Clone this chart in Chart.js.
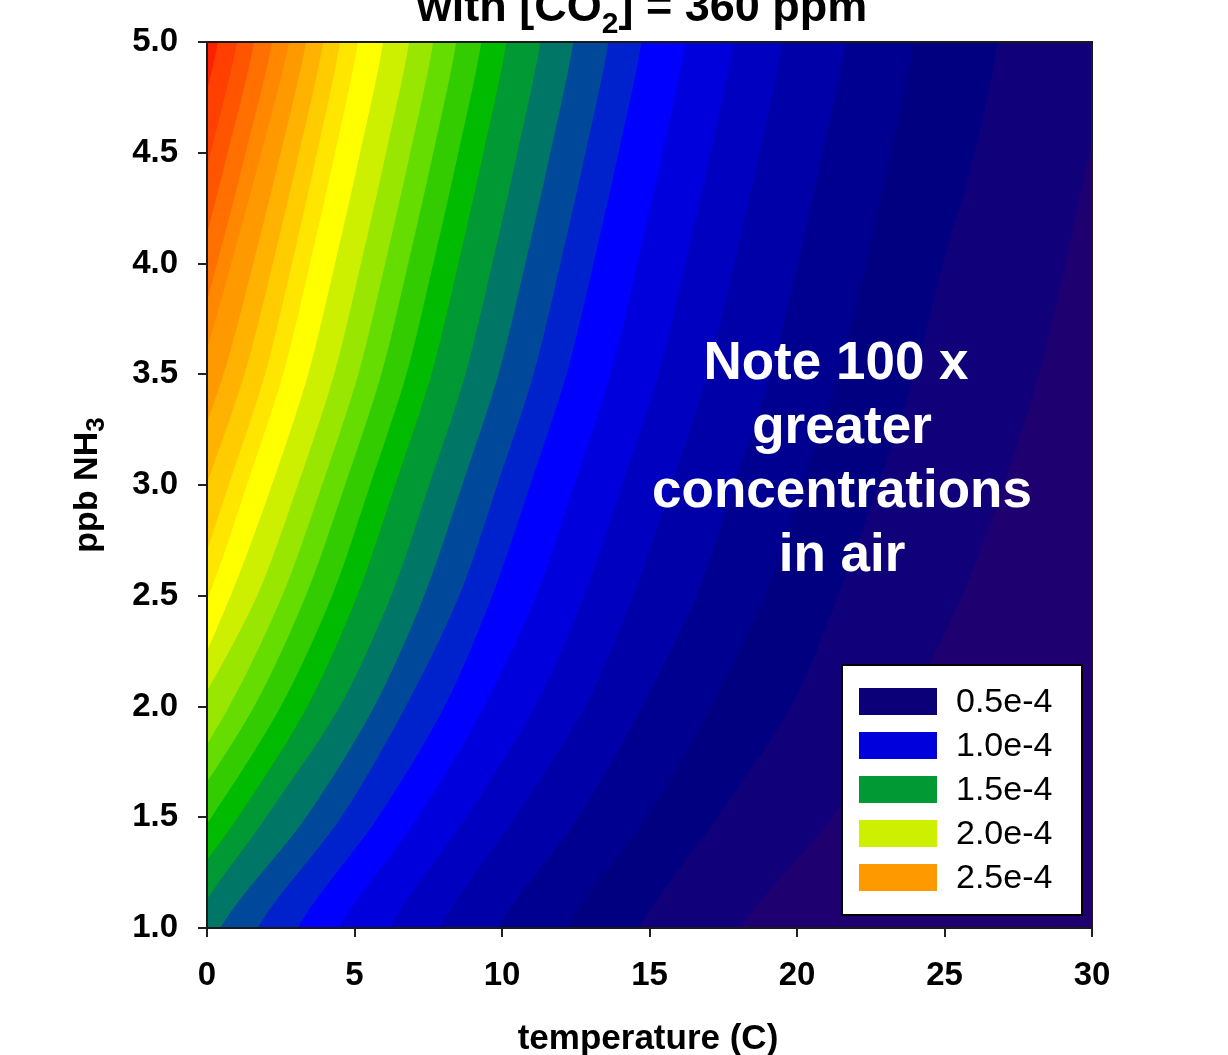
<!DOCTYPE html>
<html>
<head>
<meta charset="utf-8">
<title>NH3 with CO2 = 360 ppm</title>
<script src="https://cdn.jsdelivr.net/npm/chart.js@4.4.1/dist/chart.umd.min.js"></script>
<style>
  html, body { margin: 0; padding: 0; background: #fff; overflow: hidden; }
  #wrap { width: 1228px; height: 1055px; }
</style>
</head>
<body>
<div id="wrap"><canvas id="contourChart" width="1228" height="1055"></canvas></div>
<script>
const yLevels = [5.0, 4.5, 4.0, 3.5, 3.0, 2.5, 2.0, 1.5, 1.0];

// temperature (C) of each contour line at the yLevels above, left to right
// (values below 0 or above 30 run past the frame and get clipped)
const contourX = [
  [0.37, -0.53, -1.50, -2.56, -3.97, -5.45, -7.39, -10.05, -13.13],
  [1.02, 0.12, -0.85, -1.91, -3.32, -4.80, -6.74, -9.40, -12.48],
  [1.60, 0.70, -0.27, -1.33, -2.74, -4.22, -6.16, -8.82, -11.90],
  [2.21, 1.31, 0.34, -0.72, -2.13, -3.61, -5.55, -8.21, -11.29],
  [2.78, 1.84, 0.82, -0.27, -1.74, -3.29, -5.32, -8.09, -11.31],
  [3.36, 2.50, 1.57, 0.56, -0.79, -2.21, -4.07, -6.61, -9.55],
  [3.94, 3.12, 2.23, 1.27, -0.02, -1.37, -3.15, -5.57, -8.39],
  [4.51, 3.73, 2.88, 1.97, 0.74, -0.55, -2.24, -4.55, -7.23],
  [5.12, 4.34, 3.49, 2.58, 1.35, 0.06, -1.63, -3.94, -6.62],
  [5.97, 5.19, 4.34, 3.43, 2.20, 0.80, -0.90, -3.20, -5.90],
  [6.85, 6.07, 5.22, 4.31, 3.08, 1.70, -0.30, -2.60, -5.30],
  [7.67, 6.89, 6.04, 5.13, 3.90, 2.55, 0.75, -1.60, -4.30],
  [8.45, 7.67, 6.82, 5.91, 4.68, 3.35, 1.60, -0.80, -3.40],
  [9.30, 8.52, 7.67, 6.76, 5.53, 4.24, 2.50, 0.15, -2.50],
  [10.15, 9.37, 8.52, 7.61, 6.38, 5.09, 3.40, 1.05, -1.60],
  [11.30, 10.52, 9.67, 8.76, 7.53, 6.24, 4.50, 2.00, -0.60],
  [12.42, 11.64, 10.79, 9.88, 8.65, 7.36, 5.67, 3.36, 0.45],
  [13.61, 12.83, 11.98, 11.07, 9.84, 8.55, 6.74, 4.55, 1.72],
  [14.73, 13.95, 13.10, 12.19, 10.96, 9.67, 8.05, 5.80, 3.08],
  [16.22, 15.44, 14.59, 13.68, 12.45, 11.16, 9.40, 7.16, 4.48],
  [17.85, 17.07, 16.22, 15.31, 14.08, 12.79, 11.12, 8.79, 6.20],
  [19.51, 18.73, 17.88, 16.97, 15.74, 14.45, 12.82, 10.45, 7.90],
  [21.65, 20.87, 20.02, 19.11, 17.88, 16.59, 14.75, 12.59, 9.85],
  [23.96, 23.18, 22.33, 21.42, 20.19, 18.90, 17.10, 14.90, 12.18],
  [26.81, 26.03, 24.95, 24.00, 22.75, 21.40, 19.80, 17.30, 14.65],
  [30.60, 29.90, 29.10, 28.20, 27.00, 25.60, 23.70, 21.20, 18.10]
];

// one colour per band, from the highest value (top left) to the lowest
const bandColors = [
  '#ff2000', '#ff4000', '#ff5500', '#ff7000', '#ff8800', '#ff9900',
  '#ffb300', '#ffcc00', '#ffe600', '#ffff00', '#ccf000', '#99e600',
  '#66dd00', '#33cc00', '#00bb00', '#009933', '#007766', '#00489a',
  '#0022cc', '#0000ff', '#0000dd', '#0000c0', '#0000a8', '#000090',
  '#000080', '#10007a', '#1e0070'
];

const xTickValues = [0, 5, 10, 15, 20, 25, 30];
const yTickValues = [1.0, 1.5, 2.0, 2.5, 3.0, 3.5, 4.0, 4.5, 5.0];

const legendLabels = ['0.5e-4', '1.0e-4', '1.5e-4', '2.0e-4', '2.5e-4'];
const legendColors = ['#0c0078', '#0000dd', '#009933', '#ccf000', '#ff9900'];

const noteLines = ['Note 100 x', 'greater', 'concentrations', 'in air'];

const fontFamily = "'Liberation Sans', Arial, Helvetica, sans-serif";

function buildDatasets() {
  const sets = [];
  // band 0 fills the whole frame, every contour paints the region right of it
  sets.push({
    label: 'band 0',
    data: [{ x: -1, y: 5 }, { x: -1, y: 1 }, { x: 40, y: 1 }, { x: 40, y: 5 }],
    backgroundColor: bandColors[0],
    tension: 0
  });
  contourX.forEach((xs, k) => {
    const last = xs.length - 1;
    // run a little past the top and bottom so the curve stays smooth at the frame
    const pts = [{ x: xs[0], y: 5.15 }];
    yLevels.forEach((y, i) => pts.push({ x: xs[i], y: y }));
    pts.push({ x: xs[last], y: 0.85 }, { x: 45, y: 0.85 }, { x: 45, y: 5.15 });
    sets.push({
      label: 'band ' + (k + 1),
      data: pts,
      backgroundColor: bandColors[k + 1],
      tension: 0.3
    });
  });
  // chart.js paints the last dataset first
  return sets.reverse().map(s => Object.assign(s, {
    showLine: true,
    fill: 'shape',
    borderWidth: 0,
    borderColor: 'transparent',
    capBezierPoints: false,
    pointRadius: 0,
    pointHoverRadius: 0
  }));
}

function drawRich(ctx, parts, cx, baseY, size, subSize, subDrop) {
  let total = 0;
  parts.forEach(p => {
    ctx.font = `bold ${p.sub ? subSize : size}px ${fontFamily}`;
    p.w = ctx.measureText(p.text).width;
    total += p.w;
  });
  let x = cx - total / 2;
  ctx.textAlign = 'left';
  ctx.textBaseline = 'alphabetic';
  parts.forEach(p => {
    ctx.font = `bold ${p.sub ? subSize : size}px ${fontFamily}`;
    ctx.fillText(p.text, x, baseY + (p.sub ? subDrop : 0));
    x += p.w;
  });
}

const decorPlugin = {
  id: 'decor',
  afterDatasetsDraw(chart) {
    const ctx = chart.ctx;
    const area = chart.chartArea;

    // note text
    ctx.save();
    ctx.fillStyle = '#ffffff';
    ctx.font = `bold 53px ${fontFamily}`;
    ctx.textAlign = 'center';
    ctx.textBaseline = 'alphabetic';
    noteLines.forEach((line, i) => {
      const cx = i === 0 ? 836 : 842;
      ctx.fillText(line, cx, 379 + i * 64);
    });
    ctx.restore();

    // legend box
    const boxL = area.right - 250, boxT = area.bottom - 263;
    const boxW = 240, boxH = 250;
    ctx.save();
    ctx.fillStyle = '#ffffff';
    ctx.fillRect(boxL, boxT, boxW, boxH);
    ctx.strokeStyle = '#000000';
    ctx.lineWidth = 2;
    ctx.strokeRect(boxL, boxT, boxW, boxH);
    ctx.font = `34px ${fontFamily}`;
    ctx.textAlign = 'left';
    ctx.textBaseline = 'middle';
    legendLabels.forEach((label, i) => {
      const rowY = boxT + 36 + i * 44;
      ctx.fillStyle = legendColors[i];
      ctx.fillRect(boxL + 17, rowY - 13, 78, 27);
      ctx.fillStyle = '#000000';
      ctx.fillText(label, boxL + 114, rowY + 2);
    });
    ctx.restore();
  },
  afterDraw(chart) {
    const ctx = chart.ctx;
    const area = chart.chartArea;
    ctx.save();
    // frame
    ctx.strokeStyle = '#1a1a1a';
    ctx.lineWidth = 2;
    ctx.strokeRect(area.left, area.top, area.right - area.left, area.bottom - area.top);

    ctx.fillStyle = '#000000';
    // title, cut off at the top like the source
    drawRich(ctx, [
      { text: 'with [CO' }, { text: '2', sub: true }, { text: '] = 360 ppm' }
    ], 642, 21, 45, 30, 12);

    // x axis title
    ctx.font = `bold 35px ${fontFamily}`;
    ctx.textAlign = 'center';
    ctx.textBaseline = 'alphabetic';
    ctx.fillText('temperature (C)', 648, 1049);

    // y axis title, rotated
    ctx.translate(97, (area.top + area.bottom) / 2);
    ctx.rotate(-Math.PI / 2);
    drawRich(ctx, [{ text: 'ppb NH' }, { text: '3', sub: true }], 0, 0, 34, 26, 7);
    ctx.restore();
  }
};

const tickFont = { family: fontFamily, size: 33, weight: 'bold' };

new Chart(document.getElementById('contourChart'), {
  type: 'scatter',
  data: { datasets: buildDatasets() },
  options: {
    responsive: false,
    animation: false,
    events: [],
    layout: { padding: { top: 42, right: 136, bottom: 0, left: 0 } },
    plugins: {
      legend: { display: false },
      tooltip: { enabled: false },
      title: { display: false }
    },
    scales: {
      x: {
        type: 'linear',
        min: 0,
        max: 30,
        afterFit(scale) { scale.height = 127; },
        afterBuildTicks(scale) { scale.ticks = xTickValues.map(v => ({ value: v })); },
        border: { display: false },
        grid: { drawOnChartArea: false, drawTicks: true, tickLength: 9, color: '#222', lineWidth: 2 },
        ticks: { color: '#000', font: tickFont, padding: 19, maxRotation: 0, autoSkip: false }
      },
      y: {
        type: 'linear',
        min: 1,
        max: 5,
        afterFit(scale) { scale.width = 207; },
        afterBuildTicks(scale) { scale.ticks = yTickValues.map(v => ({ value: v })); },
        border: { display: false },
        grid: { drawOnChartArea: false, drawTicks: true, tickLength: 9, color: '#222', lineWidth: 2 },
        ticks: {
          color: '#000',
          font: tickFont,
          padding: 20,
          autoSkip: false,
          callback: v => Number(v).toFixed(1)
        }
      }
    }
  },
  plugins: [decorPlugin]
});
</script>
</body>
</html>
